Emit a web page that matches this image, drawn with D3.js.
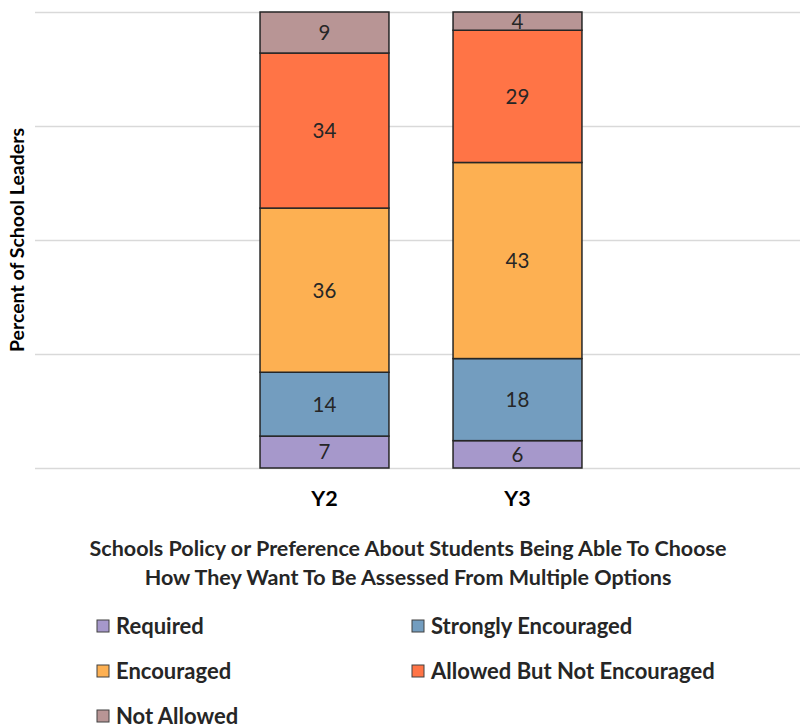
<!DOCTYPE html>
<html>
<head>
<meta charset="utf-8">
<script src="https://cdn.jsdelivr.net/npm/d3@7"></script>
<style>
  body { margin: 0; background: #fff; }
  svg { display: block; font-family: Lato, "Open Sans", sans-serif; }
</style>
</head>
<body>
<svg id="chart" width="800" height="728"></svg>
<script>
// Survey years shown on the x axis
const categories = ["Y2", "Y3"];
// Response options, stacked bottom to top
const seriesNames = ["Required", "Strongly Encouraged", "Encouraged", "Allowed But Not Encouraged", "Not Allowed"];
// Percent of school leaders per option, one value per year
const required = [7, 6];
const stronglyEncouraged = [14, 18];
const encouraged = [36, 43];
const allowedNotEncouraged = [34, 29];
const notAllowed = [9, 4];
const yTicks = [0, 25, 50, 75, 100];
const colors = ["#a698cb", "#739dbf", "#fdb052", "#ff7446", "#b89595"];

const seriesValues = [required, stronglyEncouraged, encouraged, allowedNotEncouraged, notAllowed];
const rows = categories.map((c, i) => {
  const r = { category: c };
  seriesNames.forEach((s, k) => { r[s] = seriesValues[k][i]; });
  return r;
});

const svg = d3.select("#chart");
const plot = { left: 35, right: 800, top: 12, bottom: 468 };

const x = d3.scaleBand()
  .domain(categories)
  .range([228, 614])
  .paddingInner(0.332)
  .paddingOuter(0.166);

const y = d3.scaleLinear().domain([0, 100]).range([plot.bottom, plot.top]);

// Horizontal gridlines
const grid = svg.append("g")
  .attr("transform", `translate(${plot.left},0)`)
  .call(d3.axisLeft(y).tickValues(yTicks).tickSize(-(plot.right - plot.left)).tickFormat(""));
grid.select(".domain").remove();
grid.selectAll("line").attr("stroke", "#d9d9d9").attr("stroke-width", 1.5);

// Stacked bars
const stack = d3.stack().keys(seriesNames);
const layers = stack(rows);

const layer = svg.append("g").selectAll("g")
  .data(layers)
  .join("g")
  .attr("fill", (d, i) => colors[i]);

layer.selectAll("rect")
  .data(d => d)
  .join("rect")
  .attr("x", d => x(d.data.category))
  .attr("width", x.bandwidth())
  .attr("y", d => y(d[1]))
  .attr("height", d => y(d[0]) - y(d[1]))
  .attr("stroke", "#262626")
  .attr("stroke-width", 1.5);

// Value labels centred in each segment
layer.selectAll("text")
  .data(d => d.map(v => ({ v, key: d.key })))
  .join("text")
  .attr("x", d => x(d.v.data.category) + x.bandwidth() / 2)
  .attr("y", d => y((d.v[0] + d.v[1]) / 2))
  .attr("dy", "0.36em")
  .attr("text-anchor", "middle")
  .attr("fill", "#262626")
  .attr("font-size", 20.5)
  .text(d => d.v.data[d.key]);

// Category axis labels
const xAxis = svg.append("g")
  .attr("transform", `translate(0,${plot.bottom})`)
  .call(d3.axisBottom(x).tickSize(0).tickPadding(23));
xAxis.select(".domain").remove();
xAxis.selectAll("text")
  .attr("font-family", "Lato, 'Open Sans', sans-serif")
  .attr("font-size", 21.5)
  .attr("font-weight", "bold")
  .attr("fill", "#000");

// Y axis title
svg.append("text")
  .attr("transform", "translate(24,240) rotate(-90)")
  .attr("text-anchor", "middle")
  .attr("font-size", 19.5)
  .attr("font-weight", "bold")
  .attr("fill", "#000")
  .text("Percent of School Leaders");

// X axis title (two lines)
const titleLines = [
  "Schools Policy or Preference About Students Being Able To Choose",
  "How They Want To Be Assessed From Multiple Options"
];
svg.append("g").selectAll("text")
  .data(titleLines)
  .join("text")
  .attr("x", 408)
  .attr("y", (d, i) => 556 + i * 29)
  .attr("text-anchor", "middle")
  .attr("font-size", 21.5)
  .attr("font-weight", "bold")
  .attr("fill", "#262626")
  .text(d => d);

// Legend in two columns
const legend = svg.append("g").selectAll("g")
  .data(seriesNames)
  .join("g")
  .attr("transform", (d, i) => `translate(${i % 2 === 0 ? 97 : 412},${626 + Math.floor(i / 2) * 45})`);

legend.append("rect")
  .attr("x", 0).attr("y", -6)
  .attr("width", 12).attr("height", 12)
  .attr("fill", (d, i) => colors[i])
  .attr("stroke", "#404040")
  .attr("stroke-width", 1);

legend.append("text")
  .attr("x", 19)
  .attr("dy", "0.36em")
  .attr("font-size", 22)
  .attr("font-weight", "bold")
  .attr("fill", "#262626")
  .text(d => d);
</script>
</body>
</html>
